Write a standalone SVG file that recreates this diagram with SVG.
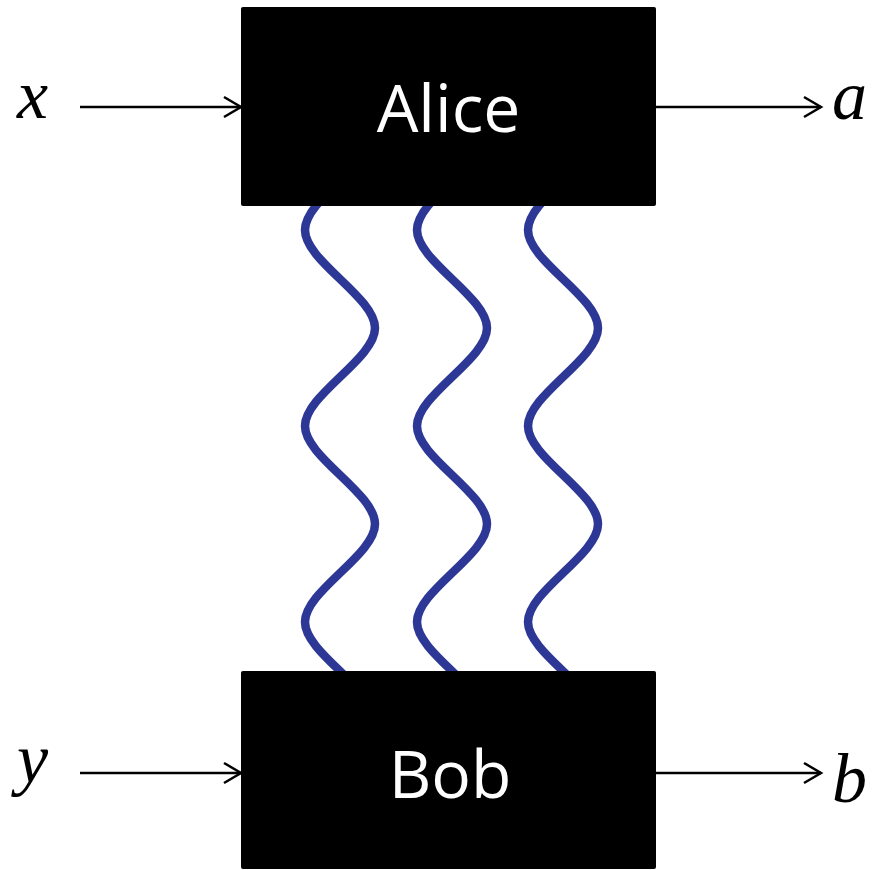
<svg xmlns="http://www.w3.org/2000/svg" width="875" height="870" viewBox="0 0 875 870">
  <style>
    .box { fill: #000000; }
    .name { fill: #ffffff; font-family: "Open Sans", "Noto Sans", sans-serif; font-size: 66px; text-anchor: middle; }
    .var { fill: #000000; font-family: "Liberation Serif", "DejaVu Serif", serif; font-style: italic; font-size: 70px; }
    .arrow { stroke: #000000; stroke-width: 2.5; fill: none; marker-end: url(#chev); }
    .wave { stroke: #2c3796; stroke-width: 8.5; fill: none; stroke-linecap: round; }
  </style>
  <defs>
    <marker id="chev" markerUnits="userSpaceOnUse" markerWidth="30" markerHeight="30" viewBox="-20 -15 30 30" refX="0" refY="0" orient="auto">
      <path d="M-17,-10 L0,0 L-17,10" fill="none" stroke="#000000" stroke-width="2.5" stroke-linejoin="miter"/>
    </marker>
    <path id="wavePath" d="M35,132 c0,31 -70,67 -70,98 s70,67 70,98 s-70,67 -70,98 s70,67 70,98 s-70,67 -70,98 s70,67 70,98"/>
  </defs>

  <g id="entanglement">
    <use href="#wavePath" class="wave" transform="translate(340,0)"/>
    <use href="#wavePath" class="wave" transform="translate(452,0)"/>
    <use href="#wavePath" class="wave" transform="translate(563,0)"/>
  </g>

  <g id="alice">
    <rect class="box" x="241" y="7" width="415" height="199" rx="2"/>
    <text class="name" x="448.5" y="132">Alice</text>
  </g>

  <g id="bob">
    <rect class="box" x="241" y="671" width="415" height="198" rx="2"/>
    <text class="name" x="450" y="798">Bob</text>
  </g>

  <g id="connectors">
    <line class="arrow" x1="80" y1="107" x2="241" y2="107"/>
    <line class="arrow" x1="656" y1="107" x2="821" y2="107"/>
    <line class="arrow" x1="80" y1="773" x2="241" y2="773"/>
    <line class="arrow" x1="656" y1="773" x2="821" y2="773"/>
  </g>

  <g id="labels">
    <text class="var" x="17" y="118">x</text>
    <text class="var" x="832" y="119">a</text>
    <text class="var" x="17" y="782">y</text>
    <text class="var" x="832" y="802">b</text>
  </g>
</svg>
